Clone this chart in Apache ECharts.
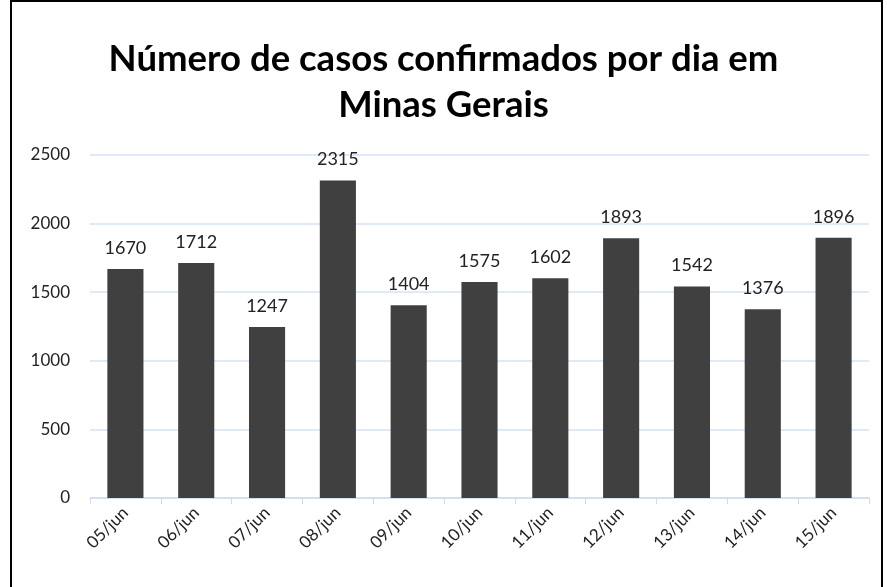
<!DOCTYPE html>
<html>
<head>
<meta charset="utf-8">
<script src="https://cdn.jsdelivr.net/npm/echarts@6/dist/echarts.min.js"></script>
<style>
  html, body { margin: 0; padding: 0; background: #fff; }
  #frame { position: absolute; left: 10px; top: 0; width: 873px; height: 600px; border: 2px solid #000; box-sizing: border-box; }
  #chart { position: absolute; left: 0; top: 0; width: 887px; height: 587px; }
</style>
</head>
<body>
<div id="frame"></div>
<div id="chart"></div>
<script>
const categories = ['05/jun', '06/jun', '07/jun', '08/jun', '09/jun', '10/jun', '11/jun', '12/jun', '13/jun', '14/jun', '15/jun'];
const casos = [1670, 1712, 1247, 2315, 1404, 1575, 1602, 1893, 1542, 1376, 1896];

const chart = echarts.init(document.getElementById('chart'));

const option = {
    animation: false,
    title: {
        text: 'Número de casos confirmados por dia em\nMinas Gerais',
        left: 'center',
        top: 31,
        textStyle: { fontFamily: 'Lato', fontWeight: 'bold', fontSize: 36.5, color: '#000', lineHeight: 46 }
    },
    grid: { left: 90, right: 18, top: 155, bottom: 89 },
    xAxis: {
        type: 'category',
        data: categories,
        axisLine: { lineStyle: { color: '#d0dcee', width: 1.5 } },
        axisTick: { show: true, length: 6, lineStyle: { color: '#d0dcee' } },
        axisLabel: { rotate: 45, fontFamily: 'Lato', fontSize: 17, color: '#222', margin: 12 }
    },
    yAxis: {
        type: 'value',
        min: 0,
        max: 2500,
        interval: 500,
        axisLine: { show: false },
        axisTick: { show: false },
        splitLine: { lineStyle: { color: '#d6e3f3', width: 1.5 } },
        axisLabel: { fontFamily: 'Lato', fontSize: 17, color: '#222', margin: 20, formatter: v => String(v) }
    },
    series: [{
        type: 'bar',
        data: casos,
        barWidth: '51%',
        itemStyle: { color: '#404040' },
        label: { show: true, position: 'top', distance: 12, fontFamily: 'Lato', fontSize: 18, color: '#222' }
    }]
};

chart.setOption(option);
</script>
</body>
</html>
